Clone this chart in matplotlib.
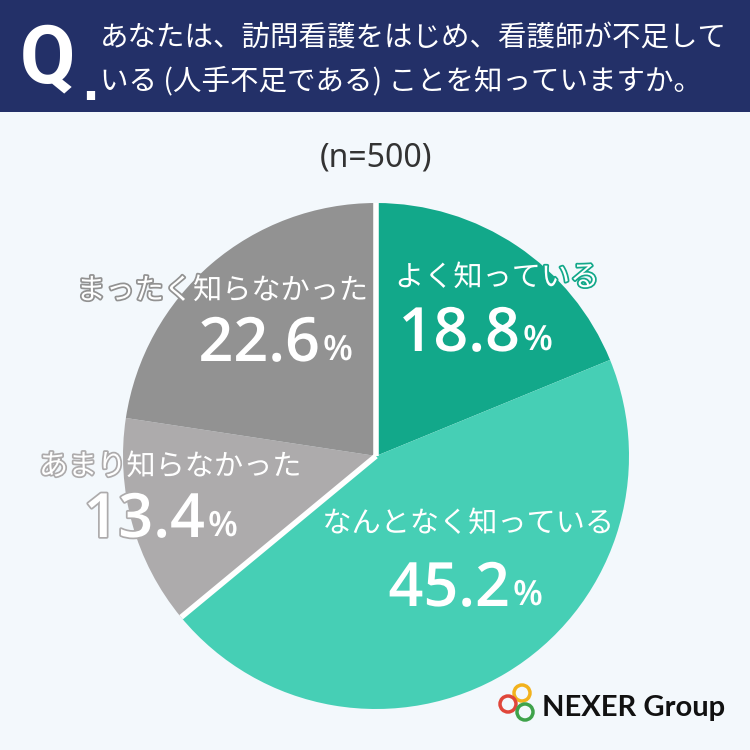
import matplotlib
matplotlib.use("Agg")
import numpy as np
import matplotlib.pyplot as plt
import matplotlib.patheffects as pe
from matplotlib.patches import Rectangle, Circle

plt.rcParams['font.family'] = ['Noto Sans CJK JP', 'DejaVu Sans']

# data
labels = ["よく知っている", "なんとなく知っている", "あまり知らなかった", "まったく知らなかった"]
values = [18.8, 45.2, 13.4, 22.6]
colors = ["#12a88a", "#46cfb5", "#adabac", "#929292"]
question = ["あなたは、訪問看護をはじめ、看護師が不足して",
            "いる (人手不足である) ことを知っていますか。"]
n_text = "(n=500)"

fig = plt.figure(figsize=(7.5, 7.5), dpi=100)
fig.patch.set_facecolor("#f3f8fc")

# header bar
fig.patches.append(Rectangle((0, 1 - 112 / 750), 1, 112 / 750, transform=fig.transFigure,
                             facecolor="#233068", edgecolor="none", zorder=0))
fig.text(20 / 750, 1 - 60 / 750, "Q", color="white", fontsize=58, fontweight="bold",
         va="center", ha="left", family="Roboto")
fig.text(81 / 750, 1 - 88 / 750, ".", color="white", fontsize=34, fontweight="bold",
         va="center", ha="left", family="DejaVu Sans")
fig.text(100 / 750, 1 - 38 / 750, question[0], color="white", fontsize=20.5, va="center", ha="left")
fig.text(100 / 750, 1 - 81 / 750, question[1], color="white", fontsize=20.5, va="center", ha="left")

fig.text(376 / 750, 1 - 158 / 750, n_text, color="#333333", fontsize=23, va="center", ha="center",
         family="Noto Sans")

# pie
ax = fig.add_axes([123 / 750, 41 / 750, 506 / 750, 506 / 750])
ax.pie(values, colors=colors, startangle=90, counterclock=False,
       wedgeprops=dict(edgecolor="none", linewidth=0))
# white separators only between the "know" and "didn't know" groups
cum = np.cumsum([0] + values) / sum(values)
for frac in [cum[0], cum[2]]:
    ang = np.deg2rad(90 - 360 * frac)
    ax.plot([0, np.cos(ang)], [0, np.sin(ang)], color="white", lw=4, solid_capstyle="butt")
ax.set_xlim(-1, 1)
ax.set_ylim(-1, 1)
ax.set_aspect("equal")
ax.axis("off")

# label positions (figure pixels from top-left): label center, number right edge
label_pos = [(497, 278), (468, 524), (170, 467), (222, 291)]
num_pos = [(520, 335), (510, 590), (205, 521), (320, 345)]

for i in range(len(values)):
    lx, ly = label_pos[i]
    stroke = [pe.withStroke(linewidth=2.5, foreground=colors[i])]
    fig.text(lx / 750, 1 - ly / 750, labels[i], color="white", fontsize=21, ha="center",
             va="center", path_effects=stroke)
    nx, ny = num_pos[i]
    fig.text(nx / 750, 1 - ny / 750, f"{values[i]:.1f}", color="white", fontsize=44,
             ha="right", va="center", family="Open Sans", fontweight="semibold",
             path_effects=stroke)
    fig.text(nx / 750 + 0.004, 1 - (ny + 6) / 750, "%", color="white", fontsize=25,
             ha="left", va="center", family="Open Sans", fontweight="semibold",
             path_effects=stroke)

# logo
for cx, cy, c in [(522, 693, "#f2b21d"), (508, 704, "#e0463a"), (525, 712, "#3ea24a")]:
    fig.patches.append(Circle((cx / 750, 1 - cy / 750), 8 / 750, transform=fig.transFigure,
                              facecolor="none", edgecolor=c, linewidth=2.5))
fig.text(542 / 750, 1 - 708 / 750, "NEXER Group", color="#111111", fontsize=21, fontweight="bold",
         ha="left", va="center", family="Lato")

fig.savefig("out.png", dpi=100, facecolor=fig.get_facecolor())
